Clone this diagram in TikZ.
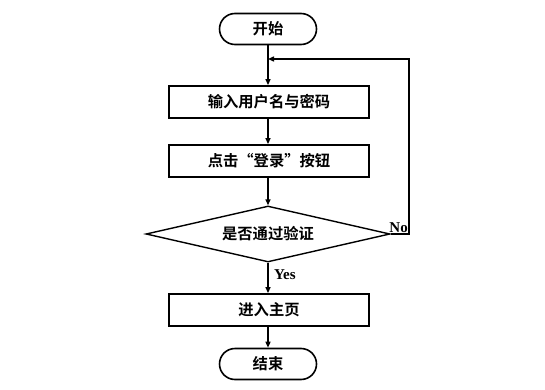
\documentclass[tikz,border=0pt]{standalone}
\usepackage{fontspec}
\newfontfamily\cjk{Noto Sans CJK SC}[BoldFont={Noto Sans CJK SC Bold}]
\newfontfamily\lat{Liberation Serif}
\usetikzlibrary{shapes.geometric,arrows.meta}
\begin{document}
\begin{tikzpicture}[x=1pt,y=-1pt,
  txt/.style={font=\cjk\bfseries\fontsize{15.3pt}{17pt}\selectfont},
  term/.style={txt,draw,line width=1.6pt,rounded corners=15.5pt,minimum width=97pt,minimum height=31pt,inner sep=0pt},
  proc/.style={txt,draw,line width=1.8pt,minimum width=200pt,minimum height=32pt,inner sep=0pt},
  dec/.style={txt,draw,line width=1.4pt,diamond,aspect=4.36,minimum width=244pt,minimum height=56pt,inner sep=0pt},
  arr/.style={line width=1.4pt,-{Triangle[length=6pt,width=5pt]}},
  lbl/.style={font=\lat\bfseries\fontsize{15pt}{16pt}\selectfont}]
\useasboundingbox (0,0) rectangle (545,390);
\node[term] (start) at (268,29) {开始};
\node[proc] (p1) at (269,102) {输入用户名与密码};
\node[proc] (p2) at (269,161) {点击“登录”按钮};
\node[dec] (d) at (268,234) {是否通过验证};
\node[proc] (p3) at (269,310) {进入主页};
\node[term] (end) at (268,364) {结束};
\coordinate (m) at (268,59);
\coordinate (r1) at (409,234);
\coordinate (r2) at (409,59);
\draw[arr] (start) -- (p1.north -| start);
\draw[arr] (p1.south -| start) -- (p2.north -| start);
\draw[arr] (p2.south -| start) -- (d.north);
\draw[arr] (d.south) -- node[lbl,right=2pt,pos=0.4]{Yes} (p3.north -| d);
\draw[arr] (p3.south -| d) -- (end);
\draw[arr] (d.east) -- (r1) -- (r2) -- (m);
\node[lbl,anchor=south east,inner sep=1pt] (no) at (r1) {No};
\end{tikzpicture}
\end{document}
